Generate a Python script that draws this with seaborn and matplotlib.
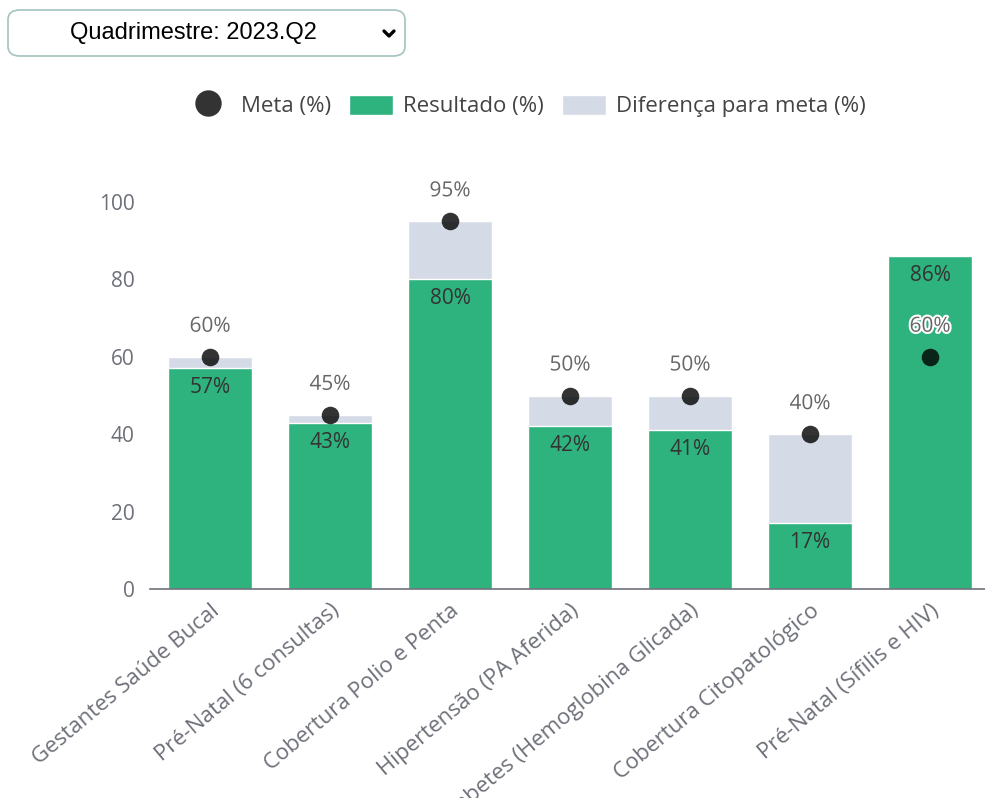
import numpy as np
import matplotlib
matplotlib.use("Agg")
import matplotlib.pyplot as plt
import matplotlib.patheffects as pe
from matplotlib.patches import FancyBboxPatch, Patch
from matplotlib.lines import Line2D
import seaborn as sns

# Data (quadrimestre 2023.Q2)
categorias = ['Gestantes Saúde Bucal', 'Pré-Natal (6 consultas)', 'Cobertura Polio e Penta',
              'Hipertensão (PA Aferida)', 'Diabetes (Hemoglobina Glicada)',
              'Cobertura Citopatológico', 'Pré-Natal (Sífilis e HIV)']
meta = [60, 45, 95, 50, 50, 40, 60]
resultado = [57, 43, 80, 42, 41, 17, 86]
diferenca = [max(m - r, 0) for m, r in zip(meta, resultado)]
total = [r + d for r, d in zip(resultado, diferenca)]

verde = '#2eb27e'
cinza = '#d5dbe6'
eixo = '#6e7079'

sns.set_style('white')
plt.rcParams['font.family'] = ['Open Sans', 'DejaVu Sans']

fig = plt.figure(figsize=(9.85, 7.98), dpi=100)
ax = fig.add_axes([150 / 985, 209 / 798, 840 / 985, 387 / 798])

# stacked look: gray total bar first, green result on top of it
sns.barplot(x=categorias, y=total, color=cinza, saturation=1, width=0.7, ax=ax)
sns.barplot(x=categorias, y=resultado, color=verde, saturation=1, width=0.7, ax=ax)
pos = np.arange(len(categorias))
ax.scatter(pos, meta, s=160, color='black', alpha=0.8, zorder=5, linewidths=0)

for i in range(len(categorias)):
    ax.annotate(f'{resultado[i]}%', (pos[i], resultado[i]), xytext=(0, -14),
                textcoords='offset points', ha='center', va='center',
                fontsize=15, color='#333333', zorder=6)
    ax.annotate(f'{meta[i]}%', (pos[i], meta[i]), xytext=(0, 22),
                textcoords='offset points', ha='center', va='center',
                fontsize=15, color='#666666', zorder=6,
                path_effects=[pe.withStroke(linewidth=3, foreground='white')])

ax.set_xlim(-0.5, len(categorias) - 0.5)
ax.set_ylim(0, 100)
ax.set_yticks([0, 20, 40, 60, 80, 100])
ax.tick_params(axis='y', length=0, pad=11, labelsize=15, labelcolor=eixo)
ax.set_xticks(pos)
ax.set_xticklabels(categorias, rotation=40, ha='right', rotation_mode='anchor',
                   fontsize=16, color=eixo)
ax.tick_params(axis='x', which='major', length=0, pad=8)
ax.set_xticks(np.arange(-0.5, len(categorias)), minor=True)
ax.tick_params(axis='x', which='minor', length=6, color=eixo, width=1.2)
for s in ['top', 'right', 'left']:
    ax.spines[s].set_visible(False)
ax.spines['bottom'].set_color(eixo)
ax.spines['bottom'].set_linewidth(1.2)
ax.set_xlabel('')
ax.set_ylabel('')

# legend
handles = [Line2D([], [], marker='o', linestyle='none', markersize=18,
                  markerfacecolor='#333333', markeredgecolor='#333333'),
           Patch(facecolor=verde), Patch(facecolor=cinza)]
fig.legend(handles, ['Meta (%)', 'Resultado (%)', 'Diferença para meta (%)'],
           loc='center', bbox_to_anchor=(526 / 985, 1 - 106 / 798), ncol=3,
           frameon=False, fontsize=16, labelcolor='#444444',
           handlelength=2.0, handleheight=1.0, handletextpad=0.45, columnspacing=0.8)

# dropdown selector
box = FancyBboxPatch((8 / 985, 1 - 56 / 798), 397 / 985, 46 / 798,
                     boxstyle='round,pad=0,rounding_size=0.012',
                     transform=fig.transFigure, facecolor='white',
                     edgecolor='#a9c7c4', linewidth=1.3)
fig.patches.append(box)
fig.text(193 / 985, 1 - 33 / 798, 'Quadrimestre: 2023.Q2', ha='center', va='center',
         fontsize=17, color='black', family=['Liberation Sans', 'DejaVu Sans'])
fig.lines.append(Line2D([384 / 985, 389 / 985, 394 / 985],
                        [1 - 31 / 798, 1 - 36 / 798, 1 - 31 / 798],
                        transform=fig.transFigure, color='black', linewidth=2.4,
                        solid_capstyle='round', solid_joinstyle='round'))

fig.savefig('out.png', dpi=100)
